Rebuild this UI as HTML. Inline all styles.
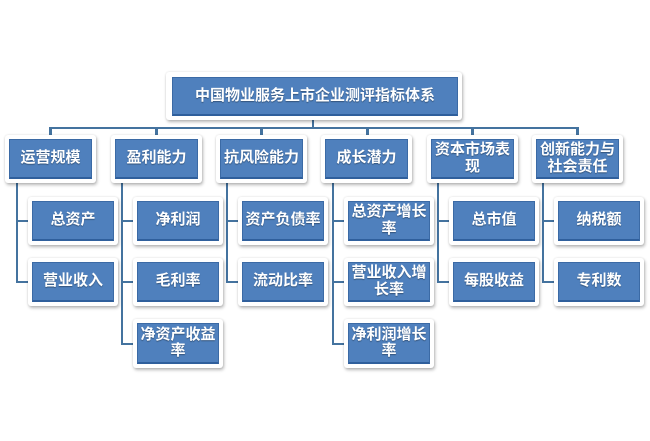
<!DOCTYPE html>
<html><head><meta charset="utf-8">
<style>
html,body{margin:0;padding:0;background:#fff;}
body{width:650px;height:441px;position:relative;overflow:hidden;font-family:"Liberation Sans","Noto Sans CJK SC",sans-serif;}
.fr{position:absolute;background:#fff;border-radius:3px;box-shadow:1px 2px 3px rgba(0,0,0,0.28),0 0 2px rgba(0,0,0,0.12);}
.bx{position:absolute;background:#4f80bd;border:1px solid #3b6aa5;border-bottom:2px solid #2f5f9c;box-sizing:border-box;color:#fff;font-size:15px;font-weight:bold;line-height:16.5px;display:flex;align-items:center;justify-content:center;text-align:center;text-shadow:0 1px 1px rgba(0,0,0,0.35);}
.ln{position:absolute;background:#44739f;}
</style></head><body>

<!-- connectors -->
<div class="ln" style="left:312px;top:118px;width:2px;height:10px;"></div>
<div class="ln" style="left:49px;top:127px;width:530px;height:2px;"></div>
<div class="ln" style="left:49px;top:127px;width:3px;height:9px;"></div>
<div class="ln" style="left:155px;top:127px;width:3px;height:9px;"></div>
<div class="ln" style="left:260px;top:127px;width:3px;height:9px;"></div>
<div class="ln" style="left:366px;top:127px;width:3px;height:9px;"></div>
<div class="ln" style="left:471px;top:127px;width:3px;height:9px;"></div>
<div class="ln" style="left:576px;top:127px;width:3px;height:9px;"></div>

<!-- child vertical lines -->
<div class="ln" style="left:16px;top:180px;width:2px;height:103px;"></div>
<div class="ln" style="left:121px;top:180px;width:2px;height:165px;"></div>
<div class="ln" style="left:226px;top:180px;width:2px;height:103px;"></div>
<div class="ln" style="left:332px;top:180px;width:2px;height:165px;"></div>
<div class="ln" style="left:437px;top:180px;width:2px;height:103px;"></div>
<div class="ln" style="left:542px;top:180px;width:2px;height:103px;"></div>

<!-- branches -->
<div class="ln" style="left:16px;top:220px;width:14px;height:2px;"></div>
<div class="ln" style="left:16px;top:281px;width:14px;height:2px;"></div>
<div class="ln" style="left:121px;top:220px;width:14px;height:2px;"></div>
<div class="ln" style="left:121px;top:281px;width:14px;height:2px;"></div>
<div class="ln" style="left:121px;top:343px;width:14px;height:2px;"></div>
<div class="ln" style="left:226px;top:220px;width:14px;height:2px;"></div>
<div class="ln" style="left:226px;top:281px;width:14px;height:2px;"></div>
<div class="ln" style="left:332px;top:220px;width:14px;height:2px;"></div>
<div class="ln" style="left:332px;top:281px;width:14px;height:2px;"></div>
<div class="ln" style="left:332px;top:343px;width:14px;height:2px;"></div>
<div class="ln" style="left:437px;top:220px;width:14px;height:2px;"></div>
<div class="ln" style="left:437px;top:281px;width:14px;height:2px;"></div>
<div class="ln" style="left:542px;top:220px;width:14px;height:2px;"></div>
<div class="ln" style="left:542px;top:281px;width:14px;height:2px;"></div>

<!-- top -->
<div class="fr" style="left:166px;top:72px;width:296px;height:48px;"></div>
<div class="bx" style="left:172px;top:77px;width:286px;height:39px;">中国物业服务上市企业测评指标体系</div>

<!-- level 1 -->
<div class="fr" style="left:5px;top:135px;width:91px;height:48px;"></div>
<div class="bx" style="left:9px;top:139px;width:83px;height:40px;">运营规模</div>
<div class="fr" style="left:111px;top:135px;width:91px;height:48px;"></div>
<div class="bx" style="left:115px;top:139px;width:83px;height:40px;">盈利能力</div>
<div class="fr" style="left:216px;top:135px;width:91px;height:48px;"></div>
<div class="bx" style="left:220px;top:139px;width:83px;height:40px;">抗风险能力</div>
<div class="fr" style="left:321px;top:135px;width:91px;height:48px;"></div>
<div class="bx" style="left:325px;top:139px;width:83px;height:40px;">成长潜力</div>
<div class="fr" style="left:427px;top:135px;width:91px;height:48px;"></div>
<div class="bx" style="left:431px;top:139px;width:83px;height:40px;">资本市场表<br>现</div>
<div class="fr" style="left:532px;top:135px;width:91px;height:48px;"></div>
<div class="bx" style="left:536px;top:139px;width:83px;height:40px;">创新能力与<br>社会责任</div>

<!-- level 2 col1 -->
<div class="fr" style="left:28px;top:197px;width:90px;height:48px;"></div>
<div class="bx" style="left:32px;top:201px;width:82px;height:40px;">总资产</div>
<div class="fr" style="left:28px;top:258px;width:90px;height:48px;"></div>
<div class="bx" style="left:32px;top:262px;width:82px;height:40px;">营业收入</div>

<!-- col2 -->
<div class="fr" style="left:133px;top:197px;width:90px;height:48px;"></div>
<div class="bx" style="left:137px;top:201px;width:82px;height:40px;">净利润</div>
<div class="fr" style="left:133px;top:258px;width:90px;height:48px;"></div>
<div class="bx" style="left:137px;top:262px;width:82px;height:40px;">毛利率</div>
<div class="fr" style="left:133px;top:319px;width:90px;height:49px;"></div>
<div class="bx" style="left:137px;top:323px;width:82px;height:41px;">净资产收益<br>率</div>

<!-- col3 -->
<div class="fr" style="left:238px;top:197px;width:90px;height:48px;"></div>
<div class="bx" style="left:242px;top:201px;width:82px;height:40px;">资产负债率</div>
<div class="fr" style="left:238px;top:258px;width:90px;height:48px;"></div>
<div class="bx" style="left:242px;top:262px;width:82px;height:40px;">流动比率</div>

<!-- col4 -->
<div class="fr" style="left:344px;top:197px;width:90px;height:48px;"></div>
<div class="bx" style="left:348px;top:201px;width:82px;height:40px;">总资产增长<br>率</div>
<div class="fr" style="left:344px;top:258px;width:90px;height:48px;"></div>
<div class="bx" style="left:348px;top:262px;width:82px;height:40px;">营业收入增<br>长率</div>
<div class="fr" style="left:344px;top:319px;width:90px;height:49px;"></div>
<div class="bx" style="left:348px;top:323px;width:82px;height:41px;">净利润增长<br>率</div>

<!-- col5 -->
<div class="fr" style="left:449px;top:197px;width:90px;height:48px;"></div>
<div class="bx" style="left:453px;top:201px;width:82px;height:40px;">总市值</div>
<div class="fr" style="left:449px;top:258px;width:90px;height:48px;"></div>
<div class="bx" style="left:453px;top:262px;width:82px;height:40px;">每股收益</div>

<!-- col6 -->
<div class="fr" style="left:554px;top:197px;width:90px;height:48px;"></div>
<div class="bx" style="left:558px;top:201px;width:82px;height:40px;">纳税额</div>
<div class="fr" style="left:554px;top:258px;width:90px;height:48px;"></div>
<div class="bx" style="left:558px;top:262px;width:82px;height:40px;">专利数</div>

</body></html>
